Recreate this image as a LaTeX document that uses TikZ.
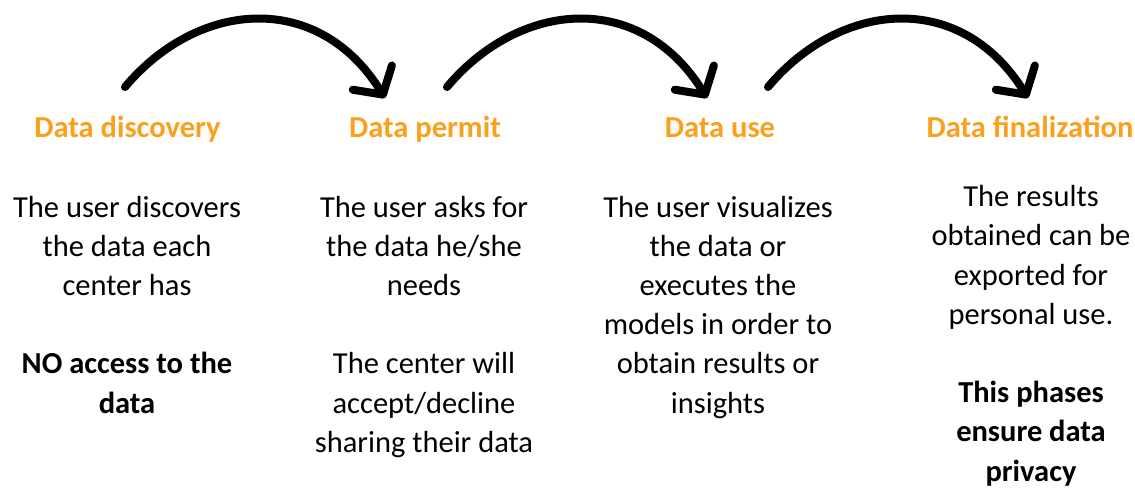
\documentclass[tikz,border=0pt]{standalone}
\usepackage{fontspec}
\setmainfont{Carlito}
\usetikzlibrary{arrows.meta}
\definecolor{phaseorange}{RGB}{250,160,28}
\begin{document}
\begin{tikzpicture}[x=1pt,y=-1pt,
  txt/.style={font=\fontsize{30.5}{39.2}\selectfont, align=center, inner sep=0pt, anchor=base},
  head/.style={txt, font=\fontsize{30.5}{39.2}\selectfont\bfseries, text=phaseorange},
  flow/.style={line width=8pt, line cap=round, line join=round,
    -{Straight Barb[length=20pt,width=46pt,round]}}]
\useasboundingbox (0,0) rectangle (1135,493);

% phase titles
\node[head] (h1) at (127.5,137) {Data discovery};
\node[head] (h2) at (425,137) {Data permit};
\node[head] (h3) at (720,137) {Data use};
\node[head] (h4) at (1030,137) {Data finalization};

% phase descriptions (placed by the baseline of their last line)
\node[txt] (d1) at (127,413) {The user discovers\\the data each\\center has\\[39.2pt]\textbf{NO access to the}\\\textbf{data}};
\node[txt] (d2) at (424,452.2) {The user asks for\\the data he/she\\needs\\[39.2pt]The center will\\accept/decline\\sharing their data};
\node[txt] (d3) at (718,413) {The user visualizes\\the data or\\executes the\\models in order to\\obtain results or\\insights};
\node[txt] (d4) at (1031,481) {The results\\obtained can be\\exported for\\personal use.\\[39.2pt]\textbf{This phases}\\\textbf{ensure data}\\\textbf{privacy}};

% arc end points above the titles
\coordinate (s1) at (125,87);
\coordinate (e1) at (385,98);
\coordinate (s2) at (447,87);
\coordinate (e2) at (707,98);
\coordinate (s3) at (768,87);
\coordinate (e3) at (1028,98);

% curved arrows between consecutive phases
\draw[flow] (s1) .. controls +(73,-87) and +(-67,-108) .. (e1);
\draw[flow] (s2) .. controls +(73,-87) and +(-67,-108) .. (e2);
\draw[flow] (s3) .. controls +(73,-87) and +(-67,-108) .. (e3);
\end{tikzpicture}
\end{document}
